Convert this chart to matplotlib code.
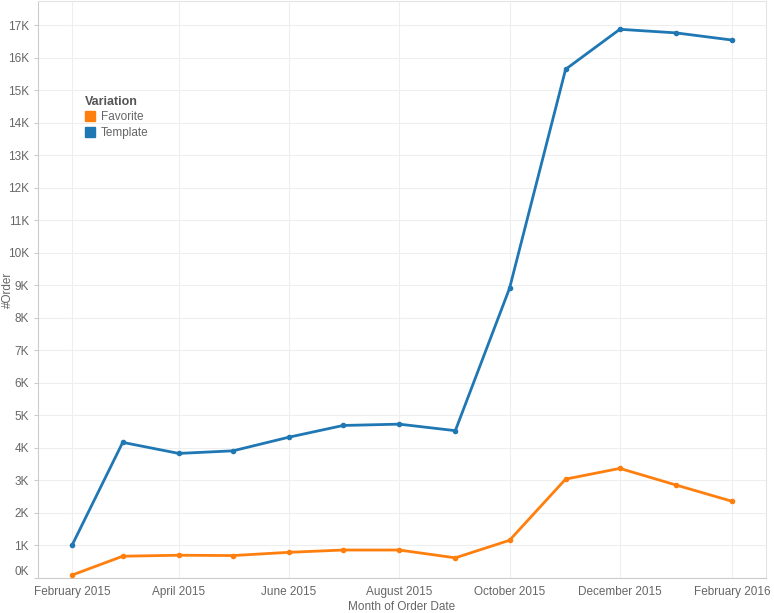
import numpy as np
import matplotlib.pyplot as plt
from matplotlib.patches import Patch
import matplotlib.dates as mdates
import pandas as pd

months = pd.date_range('2015-02-01', '2016-02-01', freq='MS')
favorite = [90, 670, 700, 690, 790, 860, 860, 620, 1160, 3040, 3370, 2860, 2360]
template = [1010, 4170, 3830, 3910, 4330, 4690, 4730, 4530, 8910, 15640, 16870, 16760, 16540]
tick_months = months[::2]
tick_labels = [m.strftime('%B %Y') for m in tick_months]
y_ticks = np.arange(0, 18000, 1000)
y_labels = [f'{int(v / 1000)}K' for v in y_ticks]

plt.rcParams['font.family'] = ['Liberation Sans', 'DejaVu Sans']
grey = '#666666'
blue = '#1f77b4'
orange = '#ff7f0e'

fig = plt.figure(figsize=(7.74, 6.13), dpi=100)
ax = fig.add_axes([38 / 774, 35 / 613, 728 / 774, 577 / 613])

ax.plot(months, template, color=blue, lw=2, marker='o', ms=3, zorder=3)
ax.plot(months, favorite, color=orange, lw=2, marker='o', ms=3, zorder=3)

x0 = mdates.date2num(months[0])
x1 = mdates.date2num(months[-1])
step = (x1 - x0) / 12
ax.set_xlim(x0 - 0.62 * step, x1 + 0.62 * step)
ax.set_ylim(0, 17740)

ax.set_xticks(tick_months)
ax.set_xticklabels(tick_labels)
ax.set_yticks(y_ticks)
ax.set_yticklabels(y_labels)
ax.yaxis.get_major_ticks()[0].label1.set_va('bottom')

ax.tick_params(axis='both', colors='#cccccc', labelcolor=grey, labelsize=8.5, length=3)
ax.tick_params(axis='x', length=0, pad=6)
ax.grid(True, color='#eeeeee', lw=0.8)
ax.set_axisbelow(True)
for s in ax.spines.values():
    s.set_color('#e4e4e4')
ax.spines['left'].set_color('#cccccc')
ax.spines['bottom'].set_color('#cccccc')

ax.set_ylabel('#Order', color=grey, fontsize=8.5, va='center')
ax.yaxis.set_label_coords(-30 / 728, 0.5)
ax.set_xlabel('Month of Order Date', color=grey, fontsize=8.5, labelpad=2)

handles = [Patch(color=orange, label='Favorite'), Patch(color=blue, label='Template')]
leg = ax.legend(handles=handles, title='Variation', loc='upper left',
                bbox_to_anchor=(42 / 728, 1 - 90 / 577), frameon=False,
                fontsize=8.5, handlelength=0.9, handleheight=0.9,
                handletextpad=0.5, labelspacing=0.3, borderaxespad=0)
leg.get_title().set_fontweight('bold')
leg.get_title().set_color('#555555')
leg.get_title().set_fontsize(9)
leg._legend_box.align = 'left'
for t in leg.get_texts():
    t.set_color(grey)

fig.savefig('out.png', dpi=100)
